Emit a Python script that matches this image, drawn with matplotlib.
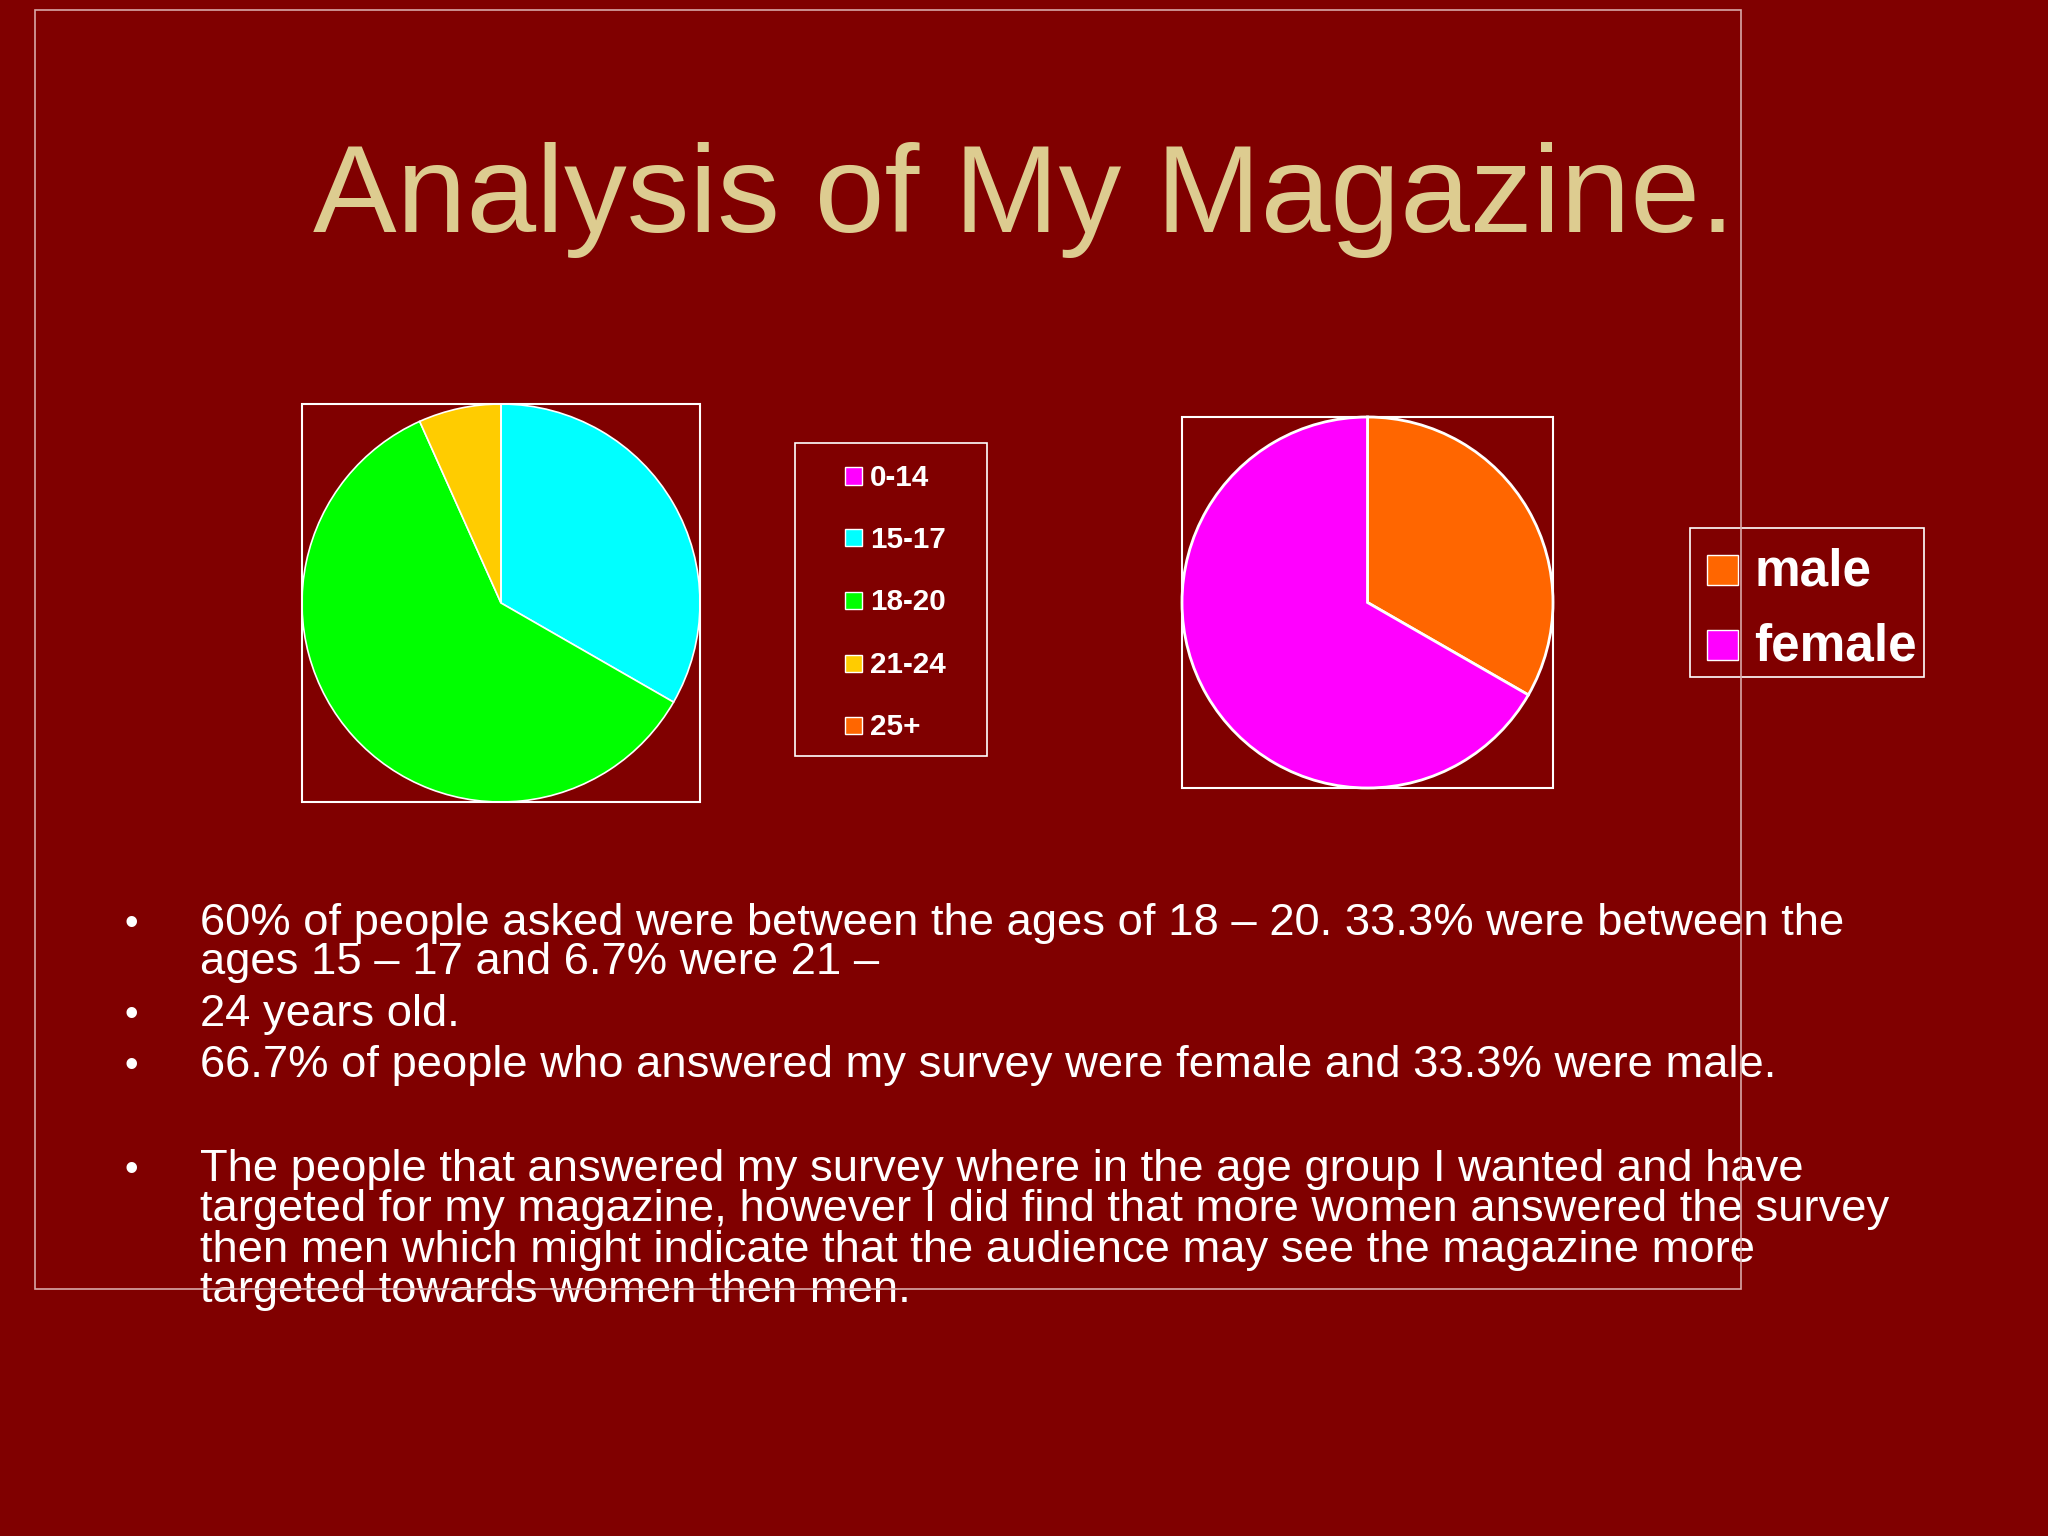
import matplotlib
matplotlib.use('Agg')
import matplotlib.pyplot as plt
from matplotlib.patches import Rectangle

plt.rcParams['font.family'] = ['Liberation Sans', 'DejaVu Sans']

# Data
age_labels = ['0-14', '15-17', '18-20', '21-24', '25+']
age_values = [0, 33.3, 60, 6.7, 0]
age_colors = ['#FF00FF', '#00FFFF', '#00FF00', '#FFCC00', '#FF6600']

gender_labels = ['male', 'female']
gender_values = [33.3, 66.7]
gender_colors = ['#FF6600', '#FF00FF']

title = 'Analysis of My Magazine.'
bullet_lines = [
    ('•', '60% of people asked were between the ages of 18 – 20. 33.3% were between the'),
    ('', 'ages 15 – 17 and 6.7% were 21 –'),
    ('•', '24 years old.'),
    ('•', '66.7% of people who answered my survey were female and 33.3% were male.'),
    ('•', 'The people that answered my survey where in the age group I wanted and have'),
    ('', 'targeted for my magazine, however I did find that more women answered the survey'),
    ('', 'then men which might indicate that the audience may see the magazine more'),
    ('', 'targeted towards women then men.'),
]
line_baselines = [935, 974, 1026, 1077, 1181, 1221, 1262, 1302]

BG = '#800000'
W, H = 2048, 1536


def fx(px):
    return px / W


def fy(py):
    return 1 - py / H


def frame(x0, y0, x1, y1, color, lw, z=5):
    # rectangle outline given in pixel coords (top-left origin)
    fig.patches.append(Rectangle((fx(x0), fy(y1)), fx(x1) - fx(x0), fy(y0) - fy(y1),
                                 transform=fig.transFigure, fill=False,
                                 edgecolor=color, linewidth=lw, zorder=z))


fig = plt.figure(figsize=(20.48, 15.36), dpi=100, facecolor=BG)

# outer slide frame
frame(35, 10, 1741, 1289, '#D8A8A8', 1.2, z=10)

fig.text(fx(313), fy(232), title, color='#DDCC90', fontsize=90.3,
         ha='left', va='baseline')


def draw_pie(box, values, colors, lw):
    x0, y0, x1, y1 = box
    ax = fig.add_axes([fx(x0), fy(y1), fx(x1) - fx(x0), fy(y0) - fy(y1)])
    ax.set_facecolor('none')
    ax.pie(values, colors=colors, startangle=90, counterclock=False,
           radius=1, wedgeprops=dict(edgecolor='white', linewidth=lw))
    ax.set_xlim(-1, 1)
    ax.set_ylim(-1, 1)
    ax.set_aspect('auto')
    frame(x0, y0, x1, y1, 'white', 1.5)
    return ax


draw_pie((302, 404, 700, 802), age_values, age_colors, 1.2)
draw_pie((1182, 417, 1553, 788), gender_values, gender_colors, 2)


def draw_legend(box, labels, colors, ys, mx, msize, tx, fsize):
    frame(*box, 'white', 1.2)
    for lab, col, y in zip(labels, colors, ys):
        fig.patches.append(Rectangle((fx(mx), fy(y + msize / 2)), msize / W, msize / H,
                                     transform=fig.transFigure, facecolor=col,
                                     edgecolor='white', linewidth=1))
        fig.text(fx(tx), fy(y + 2), lab, color='white', fontsize=fsize,
                 fontweight='bold', ha='left', va='center')


draw_legend((795, 443, 987, 756), age_labels, age_colors,
            [476, 538, 600, 663, 725], 845, 17, 870, 21.3)
draw_legend((1690, 528, 1924, 677), gender_labels, gender_colors,
            [570, 645], 1707, 31, 1754, 37)

for (b, txt), yb in zip(bullet_lines, line_baselines):
    if b:
        fig.text(fx(124), fy(yb), b, color='white', fontsize=28, ha='left', va='baseline')
    fig.text(fx(200), fy(yb), txt, color='white', fontsize=32.7, ha='left', va='baseline')

fig.savefig('out.png', dpi=100, facecolor=BG)
